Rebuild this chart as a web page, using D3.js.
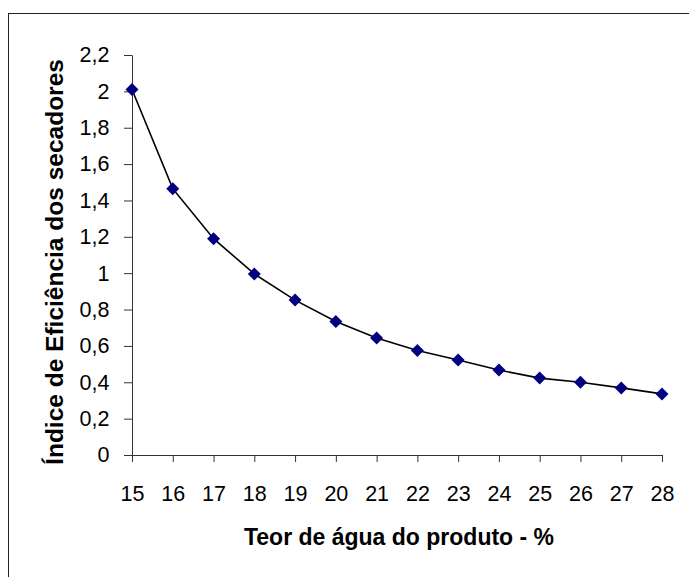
<!DOCTYPE html>
<html>
<head>
  <meta charset="utf-8">
  <title>Índice de Eficiência dos secadores</title>
  <script src="https://d3js.org/d3.v7.min.js"></script>
  <style>
    body { margin: 0; background: #fff; }
    svg { display: block; font-family: "Liberation Sans", Arial, sans-serif; }
    .tick text { font-size: 21.5px; fill: #000; }
    .axis-title { font-weight: bold; fill: #000; }
  </style>
</head>
<body>
  <svg id="chart"></svg>
  <script>
    // data
    const teor = [15, 16, 17, 18, 19, 20, 21, 22, 23, 24, 25, 26, 27, 28];
    const indice = [2.01, 1.465, 1.19, 0.996, 0.852, 0.734, 0.643, 0.575, 0.523, 0.467, 0.423, 0.40, 0.369, 0.336];
    const yTicks = [0, 0.2, 0.4, 0.6, 0.8, 1, 1.2, 1.4, 1.6, 1.8, 2, 2.2];

    const W = 689, H = 577;
    const svg = d3.select("#chart").attr("width", W).attr("height", H);

    // outer frame (right and bottom edges fall outside the picture)
    svg.append("rect")
      .attr("x", 8.5).attr("y", 13.5)
      .attr("width", W + 20).attr("height", H + 20)
      .attr("fill", "none").attr("stroke", "#222").attr("stroke-width", 1);

    const x = d3.scalePoint()
      .domain(teor)
      .range([132, 662]);

    const y = d3.scaleLinear()
      .domain([0, 2.2])
      .range([455, 55]);

    const fmt = d => String(d3.format(".1~f")(d)).replace(".", ",");

    // y axis
    const gy = svg.append("g")
      .attr("transform", "translate(132,0)")
      .call(d3.axisLeft(y).tickValues(yTicks).tickFormat(fmt).tickSizeInner(8).tickSizeOuter(0).tickPadding(14.5));
    gy.select(".domain").attr("stroke", "#333");
    gy.selectAll(".tick line").attr("stroke", "#333");

    // x axis
    const gx = svg.append("g")
      .attr("transform", "translate(0,455)")
      .call(d3.axisBottom(x).tickSizeInner(7).tickSizeOuter(0).tickPadding(24));
    gx.select(".domain").attr("stroke", "#333");
    gx.selectAll(".tick line").attr("stroke", "#333");

    // line
    const pts = teor.map((t, i) => [t, indice[i]]);
    svg.append("path")
      .datum(pts)
      .attr("fill", "none")
      .attr("stroke", "#000")
      .attr("stroke-width", 1.6)
      .attr("d", d3.line().x(d => x(d[0])).y(d => y(d[1])));

    // diamond markers
    svg.selectAll(".marker")
      .data(pts)
      .enter()
      .append("path")
        .attr("class", "marker")
        .attr("transform", d => "translate(" + x(d[0]) + "," + y(d[1]) + ")")
        .attr("d", "M0,-6.5L6.5,0L0,6.5L-6.5,0Z")
        .attr("fill", "#000080");

    // axis titles
    svg.append("text")
      .attr("class", "axis-title")
      .attr("x", 399).attr("y", 545)
      .attr("text-anchor", "middle")
      .style("font-size", "23px")
      .text("Teor de água do produto - %");

    svg.append("text")
      .attr("class", "axis-title")
      .attr("transform", "translate(63,262) rotate(-90)")
      .attr("text-anchor", "middle")
      .style("font-size", "24.5px")
      .text("Índice de Eficiência dos secadores");
  </script>
</body>
</html>
